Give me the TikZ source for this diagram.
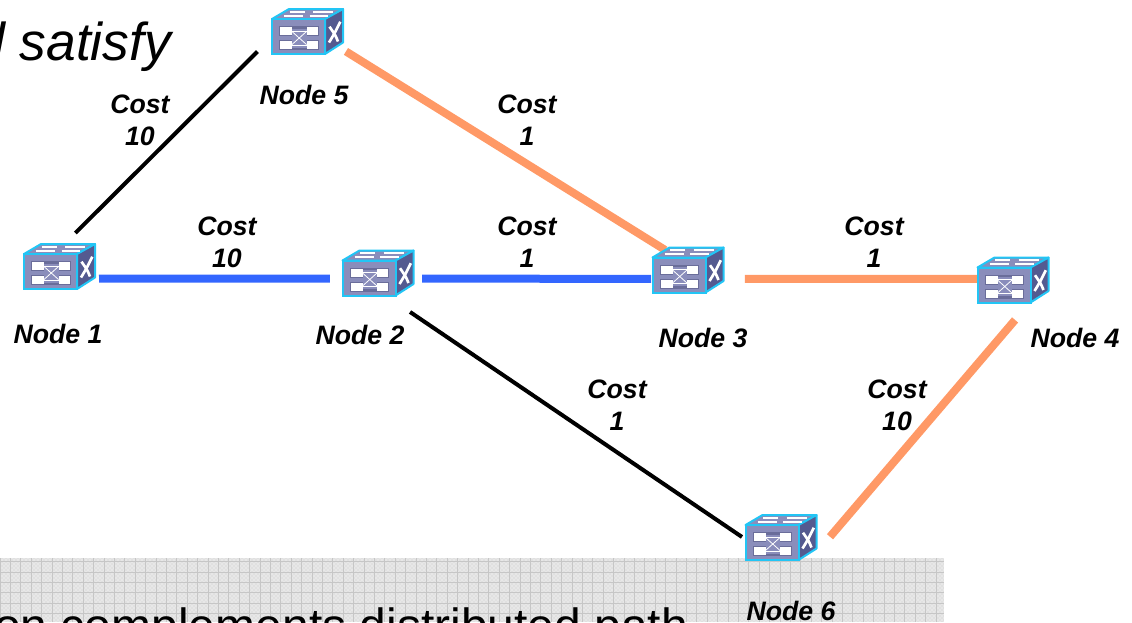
\documentclass[tikz,border=0pt]{standalone}
\usepackage{fontspec}
\setmainfont{Liberation Sans}
\usetikzlibrary{patterns}
\definecolor{linkblue}{HTML}{3366FF}
\definecolor{linkorange}{HTML}{FF9966}
\definecolor{swfront}{HTML}{8A8DBB}
\definecolor{swside}{HTML}{545A90}
\definecolor{swedge}{HTML}{22C5F5}
\definecolor{swshade}{HTML}{6A6D9A}
\definecolor{panelgray}{HTML}{E0E0E0}
\definecolor{panelline}{HTML}{C6C6C6}
\tikzset{
	switchbox/.style={minimum width=53.25pt, minimum height=33.75pt, inner sep=0pt, outer sep=0pt},
	nodelabel/.style={font=\fontsize{20}{24}\selectfont\bfseries\itshape, inner sep=0pt},
	costlabel/.style={nodelabel, align=center},
	blacklink/.style={line width=3pt, black},
	bluelink/.style={line width=6pt, linkblue},
	orangelink/.style={line width=6pt, linkorange},
	swwhite/.style={white, line width=0.6pt},
	swband/.style={white, line width=1.5pt},
	swcross/.style={white, line width=2pt}
}

\begin{document}
\begin{tikzpicture}[x=0.75pt, y=-0.75pt]
		\useasboundingbox (0, 0) rectangle (1132, 622);
		\clip (0, 0) rectangle (1132, 622);

		\fill[panelgray] (0, 558) rectangle (944, 622);
		\fill[pattern=crosshatch dots, pattern color=white] (0, 558) rectangle (944, 622);
		\draw[panelline, line width=0.5pt, step=7.8pt] (0, 558) grid (944, 622);

		\node[anchor=base west, inner sep=0pt, font=\fontsize{40}{48}\selectfont\itshape] (title) at (-25, 60) {d satisfy};
		\node[anchor=base west, inner sep=0pt, font=\fontsize{36}{43}\selectfont] (body) at (-6, 642) {on complements distributed path};

		\node[switchbox] (sw1) at (59.5, 266.5) {};
		\node[switchbox] (sw2) at (378, 273)    {};
		\node[switchbox] (sw3) at (688, 270)    {};
		\node[switchbox] (sw4) at (1013, 280)   {};
		\node[switchbox] (sw5) at (307.5, 31.5) {};
		\node[switchbox] (sw6) at (781, 537.5)  {};

		\draw[blacklink, shorten <=11.7pt, shorten >=15.4pt]  (sw1.78.7)  -- (sw5.189.5);
		\draw[bluelink, shorten <=3pt, shorten >=9.4pt]       (sw1.-19.4) -- (sw2.189.6);
		\draw[bluelink, shorten <=6.4pt, shorten >=1.1pt]     (sw2.-9.6)  -- (sw3.194.2);
		\draw[orangelink, shorten <=2.6pt, shorten >=-3.5pt]  (sw5.-27.5) -- (sw3.140.2);
		\draw[orangelink, shorten <=16.1pt]                   (sw3.-14.2) -- (sw4.178.4);
		\draw[blacklink, shorten <=22pt, shorten >=3.2pt]     (sw2.-71.1) -- (sw6.183);
		\draw[orangelink, shorten <=15.6pt, shorten >=17.2pt] (sw6.-23.3) -- (sw4.-53.1);

		% switch icons
		\foreach \sw in {sw1, sw2, sw3, sw4, sw5, sw6} {
			\begin{scope}[shift={(\sw)}]
				\filldraw[fill=swfront, draw=swedge, line width=1.5pt, line join=round] (-35.5, -12.5) -- (-18.5, -22.5) -- (35.5, -22.5) -- (17.5, -12.5) -- cycle;
				\filldraw[fill=swside, draw=swedge, line width=1.5pt, line join=round] (17.5, -12.5) -- (35.5, -22.5) -- (35.5, 11) -- (17.5, 22.5) -- cycle;
				\filldraw[fill=swfront, draw=swedge, line width=1.5pt] (-35.5, -12.5) rectangle (17.5, 22.5);
				\fill[swshade] (-28.5, -5.5) rectangle (11, 4.5);
				\fill[swshade] (-28.5, 8.5) rectangle (11, 18.5);
				\fill[swfront] (-15.5, -3) rectangle (-1, 16);
				\fill[white] (-27.5, -4.5) rectangle (-15.5, 3.5);
				\fill[white] (-1, -4.5) rectangle (10, 3.5);
				\fill[white] (-27.5, 9.5) rectangle (-15.5, 17.5);
				\fill[white] (-1, 9.5) rectangle (10, 17.5);
				\draw[swwhite] (-15.5, -0.5) -- (-1, -0.5);
				\draw[swwhite] (-15.5, 13.5) -- (-1, 13.5);
				\draw[swwhite] (-15.5, 0) -- (-1, 13);
				\draw[swwhite] (-15.5, 13) -- (-1, 0);
				\draw[swband] (-23.5, -15.8) -- (-4.5, -15.8);
				\draw[swband] (2, -15.8) -- (20.5, -15.8);
				\draw[swband] (-18, -19.8) -- (-3, -19.8);
				\draw[swband] (5.5, -19.8) -- (25.5, -19.8);
				\draw[swcross] (21.5, 11) .. controls (27, 2) .. (32.8, -9.8);
				\draw[swcross] (22, -4.8) .. controls (27.8, 3.5) .. (30.5, 10);
			\end{scope}
		}

		\node[nodelabel] (lab1) at (58, 334)   {Node 1};
		\node[nodelabel] (lab2) at (360, 335)  {Node 2};
		\node[nodelabel] (lab3) at (703, 338)  {Node 3};
		\node[nodelabel] (lab4) at (1075, 338) {Node 4};
		\node[nodelabel] (lab5) at (304, 95)   {Node 5};
		\node[nodelabel] (lab6) at (791, 611)  {Node 6};

		\node[costlabel] (c15) at (140, 120) {Cost\\10};
		\node[costlabel] (c53) at (527, 120) {Cost\\1};
		\node[costlabel] (c12) at (227, 242) {Cost\\10};
		\node[costlabel] (c23) at (527, 242) {Cost\\1};
		\node[costlabel] (c34) at (874, 242) {Cost\\1};
		\node[costlabel] (c26) at (617, 405) {Cost\\1};
		\node[costlabel] (c64) at (897, 405) {Cost\\10};
	\end{tikzpicture}
\end{document}
